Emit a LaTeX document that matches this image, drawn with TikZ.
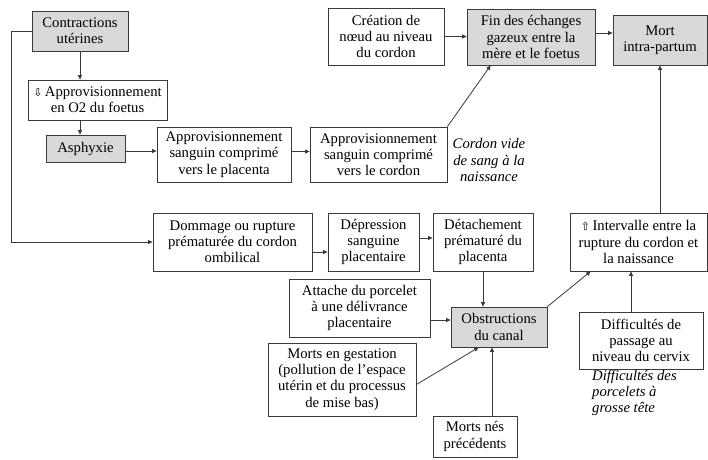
\documentclass[tikz,border=0pt]{standalone}
\usepackage{fontspec}
\setmainfont{Liberation Serif}
\newfontfamily\symfont{DejaVu Sans}
\usetikzlibrary{arrows.meta,positioning,calc}
\definecolor{Shade}{HTML}{D9D9D9}
\definecolor{Wire}{HTML}{3A3A3A}
\newcommand{\dnarrow}{{\symfont\fontsize{11}{12}\selectfont ⇩}}
\newcommand{\uparrowsym}{{\symfont\fontsize{11}{12}\selectfont ⇧}}

\begin{document}
\begin{tikzpicture}[
  x=1pt,y=-1pt,
  font=\fontsize{14.7}{16.2}\selectfont,
  box/.style={draw=Wire,line width=0.8pt,align=center,inner sep=1pt,fill=white},
  cause/.style={box,fill=Shade},
  note/.style={font=\fontsize{14.7}{16.2}\selectfont\itshape,inner sep=0pt},
  arrow/.style={-{Triangle[length=4.5pt,width=4pt]},line width=0.8pt,color=Wire}
]
\useasboundingbox (0,0) rectangle (708,459);

% upper chain
\node[cause,minimum width=96,minimum height=40] (contr) at (80,31) {Contractions\\utérines};
\node[box,minimum width=139,minimum height=40] (oxy) at (97.5,100) {\dnarrow\,Approvisionnement\\en O2 du foetus};
\node[cause,minimum width=79,minimum height=27] (asph) at (85.5,148.5) {Asphyxie};
\node[box,minimum width=134,minimum height=55] (appP) at (224,154.5) {Approvisionnement\\sanguin comprimé\\vers le placenta};
\node[box,minimum width=137,minimum height=55] (appC) at (378.5,154.5) {Approvisionnement\\sanguin comprimé\\vers le cordon};
\node[box,minimum width=116,minimum height=57] (noeud) at (386,36.5) {Création de\\nœud au niveau\\du cordon};
\node[cause,minimum width=128,minimum height=56] (fin) at (531,37) {Fin des échanges\\gazeux entre la\\mère et le foetus};
\node[cause,minimum width=94,minimum height=50] (mort) at (660,40) {Mort\\intra-partum};
\node[note,align=center] (vide) at (489,160) {Cordon vide\\de sang à la\\naissance};

% lower chain
\node[box,minimum width=159,minimum height=58] (dommage) at (232.5,242) {Dommage ou rupture\\prématurée du cordon\\ombilical};
\node[box,minimum width=91,minimum height=58] (depr) at (373.5,242) {Dépression\\sanguine\\placentaire};
\node[box,minimum width=100,minimum height=58] (detach) at (483,242) {Détachement\\prématuré du\\placenta};
\node[box,minimum width=137,minimum height=58] (interv) at (638.5,242) {\uparrowsym\,Intervalle entre la\\rupture du cordon et\\la naissance};
\node[box,minimum width=141,minimum height=58] (attache) at (359.5,308) {Attache du porcelet\\à une délivrance\\placentaire};
\node[cause,minimum width=96,minimum height=40] (obstr) at (499,327) {Obstructions\\du canal};
\node[box,minimum width=124,minimum height=57] (diffic) at (641,340.5) {Difficultés de\\passage au\\niveau du cervix};
\node[box,minimum width=148,minimum height=73] (gest) at (342,379.5) {Morts en gestation\\(pollution de l’espace\\utérin et du processus\\de mise bas)};
\node[box,minimum width=84,minimum height=41] (mortsnes) at (475,436.5) {Morts nés\\précédents};
\node[note,align=left,anchor=north west] (grosse) at (592,370) {Difficultés des\\porcelets à\\grosse tête};

\draw[arrow] (contr.south) -- (contr.south |- oxy.north);
\draw[arrow] (oxy.south -| contr.south) -- (asph.north -| contr.south);
\draw[arrow] ($(asph.east)+(0,2.5)$) -- ($(appP.west)+(0,-3.5)$);
\draw[arrow] ($(appP.east)+(0,-3)$) -- ($(appC.west)+(0,-3)$);
\draw[arrow] (appC.north east) -- ($(fin.south west)+(24,0)$);
\draw[arrow] (noeud.east) -- (noeud.east -| fin.west);
\draw[arrow] ($(fin.east)+(0,-4)$) -- ($(mort.west)+(0,-7)$);
\draw[arrow] (contr.west) -- ++(-20,0) |- (dommage.west);
\draw[arrow] ($(dommage.east)+(0,10)$) -- ($(depr.west)+(0,10)$);
\draw[arrow] ($(depr.east)+(0,-4)$) -- ($(detach.west)+(0,-4)$);
\draw[arrow] (detach.south) -- (detach.south |- obstr.north);
\draw[arrow] ($(attache.east)+(0,12)$) -- ($(obstr.west)+(0,-7)$);
\draw[arrow] (obstr.north east) -- ($(interv.south west)+(21,0)$);
\draw[arrow] (interv.north -| mort.south) -- (mort.south);
\draw[arrow] ($(diffic.north)+(-10,0)$) -- ($(interv.south)+(-7.5,0)$);
\draw[arrow] ($(gest.east)+(0,5)$) -- ($(obstr.south west)+(28,0)$);
\draw[arrow] ($(mortsnes.north)+(17,0)$) -- ($(obstr.south)+(-7,0)$);
\end{tikzpicture}
\end{document}
